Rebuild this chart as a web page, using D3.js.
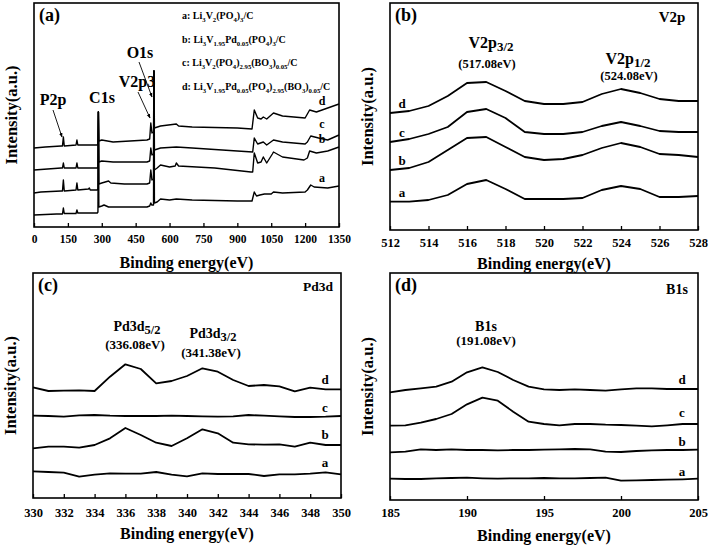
<!DOCTYPE html>
<html><head><meta charset="utf-8">
<script src="https://cdn.jsdelivr.net/npm/d3@7"></script>
<style>
body{margin:0;background:#fff}
svg text{font-family:"Liberation Serif","Times New Roman",Times,serif;font-weight:bold;fill:#000}
</style>
</head><body>
<svg id="chart" width="709" height="545"></svg>
<script>
// ---------- DATA (intensity in arbitrary units, offset per sample) ----------
const seriesNames = ["a","b","c","d"];
const legendLabels = [
  "a: Li_{3}V_{2}(PO_{4})_{3}/C",
  "b: Li_{3}V_{1.95}Pd_{0.05}(PO_{4})_{3}/C",
  "c: Li_{3}V_{2}(PO_{4})_{2.95}(BO_{3})_{0.05}/C",
  "d: Li_{3}V_{1.95}Pd_{0.05}(PO_{4})_{2.95}(BO_{3})_{0.05}/C"
];

// (a) survey spectra: [binding energy, intensity]
const surveyA = [[0,12],[100,13],[126,13],[130,19],[134,13.5],[186,13.5],[190,17],[194,14],[280,14],[283,15],[285,115],[287,20],[300,21],[310,22],[330,20],[500,20],[512,21],[517,24],[521,22],[529,22],[531,156],[533,24],[545,25],[560,28],[600,27],[630,28],[700,27],[900,26],[965,26],[975,35],[985,31],[1000,32],[1020,33],[1050,33],[1060,35],[1100,34],[1200,35],[1210,37],[1225,42],[1240,40],[1300,39],[1350,41]];
const surveyB = [[0,34],[30,35],[120,36],[126,36],[130,47],[134,36],[186,37],[190,44],[194,37],[241,38],[245,39],[249,37],[280,37],[283,38],[285,115],[287,43],[300,44],[330,46],[340,44],[400,43],[500,43],[512,44],[517,57],[522,47],[529,48],[531,156],[533,57],[545,59],[560,62],[600,60],[625,61],[630,64],[640,61],[800,59],[960,55],[968,55],[975,74],[990,64],[1005,65],[1015,70],[1030,64],[1055,73],[1060,75],[1100,70],[1195,67],[1210,69],[1220,76],[1250,74],[1300,76],[1350,80]];
const surveyC = [[0,57],[120,59],[126,59],[130,64],[134,59],[186,59],[190,64],[194,59],[280,59],[283,60],[285,115],[287,65],[300,66],[350,65],[500,65],[512,66],[517,79],[522,72],[529,73],[531,156],[533,77],[560,79],[630,80],[700,79],[900,76],[968,75],[975,89],[990,83],[1015,85],[1030,82],[1060,87],[1100,85],[1200,83],[1210,85],[1225,91],[1260,89],[1300,87],[1350,92]];
const surveyD = [[0,79],[50,80],[120,81],[126,81],[130,90],[134,81],[186,82],[190,87],[194,82],[250,82],[280,82],[283,83],[285,115],[287,86],[300,87],[350,85],[500,87],[512,88],[517,104],[522,94],[529,95],[531,156],[533,99],[560,101],[630,103],[640,101],[700,100],[900,99],[965,98],[975,117],[990,109],[1005,108],[1015,110],[1030,108],[1060,114],[1100,111],[1200,109],[1220,117],[1250,115],[1300,119],[1350,123]];

// (b) V2p region
const energyV = d3.range(512, 529, 1);
const v2pA = [28.3,28.3,30,35,46,50,41,31,31,31,32,40,44,41,33,33,34];
const v2pB = [60,62,68,80,92,93,83,73,70,71,75,82,87,83,76,75,73];
const v2pC = [88,91,96,103,118,121,112,98,96,96,98,104,108,104,99,98,98];
const v2pD = [117,119,124,134,147,148,139,129,126,126,128,136,141,137,131,129,129];

// (c) Pd3d region
const energyPd = d3.range(330, 351, 1);
const pdA = [26.7,26,25.3,21.3,23.3,24.7,24.3,24.3,26,23.3,21.7,24.7,24,24,24,22,23.7,23.7,24.3,25.7,23.7];
const pdB = [49.7,51.3,51.3,50.3,53,59.7,70,63,55.3,52,59.7,68.7,64.7,55.3,53.7,53.3,53.7,51.3,55.3,53,53];
const pdC = [82.3,82,81.3,82.7,83,82.3,82,82,82,82.3,82,81.7,81.3,81.7,83,82.3,81.7,81,81,81.3,82];
const pdD = [110.7,107,107.3,107.7,107,121.3,133.7,129,114.7,117,122,129.7,126.3,118,112,113,111.7,106.7,110.3,108.7,108.7];

// (d) B1s region
const energyB = d3.range(185, 206, 1);
const b1sA = [21.3,21,21,21.7,22,22.3,21.7,21.3,21.7,21.7,22,21.7,21.7,22,22.3,19.3,19.7,20,20.3,20.7,21.3];
const b1sB = [47.7,48.3,50.7,50,50.7,50,50,49.7,50,50,50.3,50.7,51,50.7,48.3,48,49,49.7,50,50,50.3];
const b1sC = [74.3,74.7,77.3,81,86,95.7,102.3,99.3,88.3,78.3,76,74.7,76,76,75.3,75,74.3,73.7,74.7,76,76];
const b1sD = [107.7,110,111.7,113.3,118.3,127.7,132.7,128,120,113.3,110.7,110,110.7,110,109.3,110.7,111.7,111.7,111,111,111];

// tick values
const ticksA = [0,150,300,450,600,750,900,1050,1200,1350];
const ticksB = [512,514,516,518,520,522,524,526,528];
const ticksC = [330,332,334,336,338,340,342,344,346,348,350];
const ticksD = [185,190,195,200,205];

// ---------- DRAWING ----------
const FONT = '"Liberation Serif","Times New Roman",Times,serif';
const svg = d3.select("#chart");
svg.append("defs").append("marker")
  .attr("id","arr").attr("viewBox","0 0 10 10").attr("refX",9).attr("refY",5)
  .attr("markerWidth",5).attr("markerHeight",5).attr("orient","auto")
  .append("path").attr("d","M0,1 L10,5 L0,9 z").attr("fill","#000");

function richText(g, str, x, y, size, subSize, anchor, shift) {
  const t = g.append("text").attr("x", x).attr("y", y)
    .attr("font-size", size).attr("text-anchor", anchor || "start");
  const parts = str.split(/(_\{[^}]*\})/).filter(s => s.length);
  let sub = false;
  parts.forEach(p => {
    if (p.startsWith("_{")) {
      t.append("tspan").attr("font-size", subSize).attr("dy", sub ? 0 : shift)
        .text(p.slice(2, -1));
      sub = true;
    } else {
      t.append("tspan").attr("dy", sub ? -shift : 0).text(p);
      sub = false;
    }
  });
  return t;
}

function panel(cfg) {
  const g = svg.append("g");
  const x = d3.scaleLinear().domain(cfg.xdom).range([cfg.l, cfg.r]);
  const y = d3.scaleLinear().domain([0, cfg.ymax]).range([cfg.b, cfg.t]);
  const line = d3.line().x(d => x(d[0])).y(d => y(d[1]));
  cfg.series.forEach(s => {
    g.append("path").datum(s).attr("d", line).attr("fill","none")
      .attr("stroke","#000").attr("stroke-width", cfg.lw).attr("stroke-linejoin","round");
  });
  const ax = g.append("g").attr("transform", `translate(0,${cfg.b})`)
    .call(d3.axisBottom(x).tickValues(cfg.ticks).tickSize(-4).tickPadding(cfg.pad).tickFormat(d3.format("d")));
  ax.attr("font-family", FONT);
  ax.select(".domain").remove();
  ax.selectAll(".tick line").attr("stroke","#000").attr("stroke-width",1.3);
  ax.selectAll(".tick text").attr("font-size", cfg.tfs)
    .attr("font-family", FONT).attr("font-weight","bold").attr("fill","#000");
  g.append("rect").attr("x", cfg.l).attr("y", cfg.t).attr("width", cfg.r - cfg.l)
    .attr("height", cfg.b - cfg.t).attr("fill","none").attr("stroke","#000").attr("stroke-width",1.6);
  g.append("text").attr("x", (cfg.l + cfg.r) / 2).attr("y", cfg.b + cfg.xt)
    .attr("text-anchor","middle").attr("font-size",16).text("Binding energy(eV)");
  g.append("text").attr("transform", `translate(${cfg.l - 17},${(cfg.t + cfg.b) / 2}) rotate(-90)`)
    .attr("text-anchor","middle").attr("font-size",16.5).text("Intensity(a.u.)");
  g.append("text").attr("x", cfg.l + 5).attr("y", cfg.t + 18).attr("font-size",18).text(cfg.tag);
  return {g, x, y};
}

// (a)
const pa = panel({l:34, r:339, t:3, b:227, xdom:[0,1350], ymax:224, ticks:ticksA, lw:1.4, tag:"(a)",
  pad:8, tfs:11.5, xt:41, series:[surveyA, surveyB, surveyC, surveyD]});
legendLabels.forEach((s, i) => richText(pa.g, s, 182, 19 + i * 23.5, 10, 6.7, "start", 3));
[["d",105],["c",128],["b",143],["a",182]].forEach(([t, yy]) =>
  pa.g.append("text").attr("x",322).attr("y",yy).attr("text-anchor","middle").attr("font-size",12).text(t));
[["P2p",53,105],["C1s",102,103],["V2p3",137,87],["O1s",140,58]].forEach(([t, xx, yy]) =>
  pa.g.append("text").attr("x",xx).attr("y",yy).attr("text-anchor","middle").attr("font-size",16).text(t));
[[53,110,62,137],[138,92,150,118],[139,62,152,97]].forEach(([x1,y1,x2,y2]) =>
  pa.g.append("line").attr("x1",x1).attr("y1",y1).attr("x2",x2).attr("y2",y2)
    .attr("stroke","#000").attr("stroke-width",0.9).attr("marker-end","url(#arr)"));

// (b)
const zip = (xs, ys) => xs.map((v, i) => [v, ys[i]]);
const pb = panel({l:390, r:698, t:3, b:230, xdom:[512,528], ymax:227, ticks:ticksB, lw:1.8, tag:"(b)",
  pad:8, tfs:12.5, xt:39, series:[zip(energyV,v2pA), zip(energyV,v2pB), zip(energyV,v2pC), zip(energyV,v2pD)]});
pb.g.append("text").attr("x",672).attr("y",22).attr("text-anchor","middle").attr("font-size",15).text("V2p");
richText(pb.g, "V2p_{3/2}", 491, 48, 16, 13, "middle", 3);
pb.g.append("text").attr("x",487).attr("y",68).attr("text-anchor","middle").attr("font-size",12.5).text("(517.08eV)");
richText(pb.g, "V2p_{1/2}", 628, 64, 16, 13, "middle", 3);
pb.g.append("text").attr("x",629).attr("y",80).attr("text-anchor","middle").attr("font-size",12.5).text("(524.08eV)");
[["d",108],["c",137],["b",165],["a",197]].forEach(([t, yy]) =>
  pb.g.append("text").attr("x",402).attr("y",yy).attr("text-anchor","middle").attr("font-size",13).text(t));

// (c)
const pc = panel({l:33, r:341, t:273, b:498, xdom:[330,350], ymax:225, ticks:ticksC, lw:1.8, tag:"(c)",
  pad:10, tfs:12.5, xt:41, series:[zip(energyPd,pdA), zip(energyPd,pdB), zip(energyPd,pdC), zip(energyPd,pdD)]});
pc.g.append("text").attr("x",318).attr("y",291).attr("text-anchor","middle").attr("font-size",13.5).text("Pd3d");
richText(pc.g, "Pd3d_{5/2}", 137, 331, 14, 12.5, "middle", 3);
pc.g.append("text").attr("x",135).attr("y",349).attr("text-anchor","middle").attr("font-size",13).text("(336.08eV)");
richText(pc.g, "Pd3d_{3/2}", 213, 338, 14, 12.5, "middle", 3);
pc.g.append("text").attr("x",211).attr("y",357).attr("text-anchor","middle").attr("font-size",13).text("(341.38eV)");
[["d",384],["c",412],["b",439],["a",467]].forEach(([t, yy]) =>
  pc.g.append("text").attr("x",325).attr("y",yy).attr("text-anchor","middle").attr("font-size",13).text(t));

// (d)
const pd = panel({l:390, r:698, t:273, b:500, xdom:[185,205], ymax:227, ticks:ticksD, lw:1.8, tag:"(d)",
  pad:8, tfs:12.5, xt:41, series:[zip(energyB,b1sA), zip(energyB,b1sB), zip(energyB,b1sC), zip(energyB,b1sD)]});
pd.g.append("text").attr("x",677).attr("y",294).attr("text-anchor","middle").attr("font-size",14).text("B1s");
pd.g.append("text").attr("x",486).attr("y",331).attr("text-anchor","middle").attr("font-size",14).text("B1s");
pd.g.append("text").attr("x",486).attr("y",345).attr("text-anchor","middle").attr("font-size",13).text("(191.08eV)");
[["d",384],["c",417],["b",446],["a",476]].forEach(([t, yy]) =>
  pd.g.append("text").attr("x",682).attr("y",yy).attr("text-anchor","middle").attr("font-size",13).text(t));
</script>
</body></html>
